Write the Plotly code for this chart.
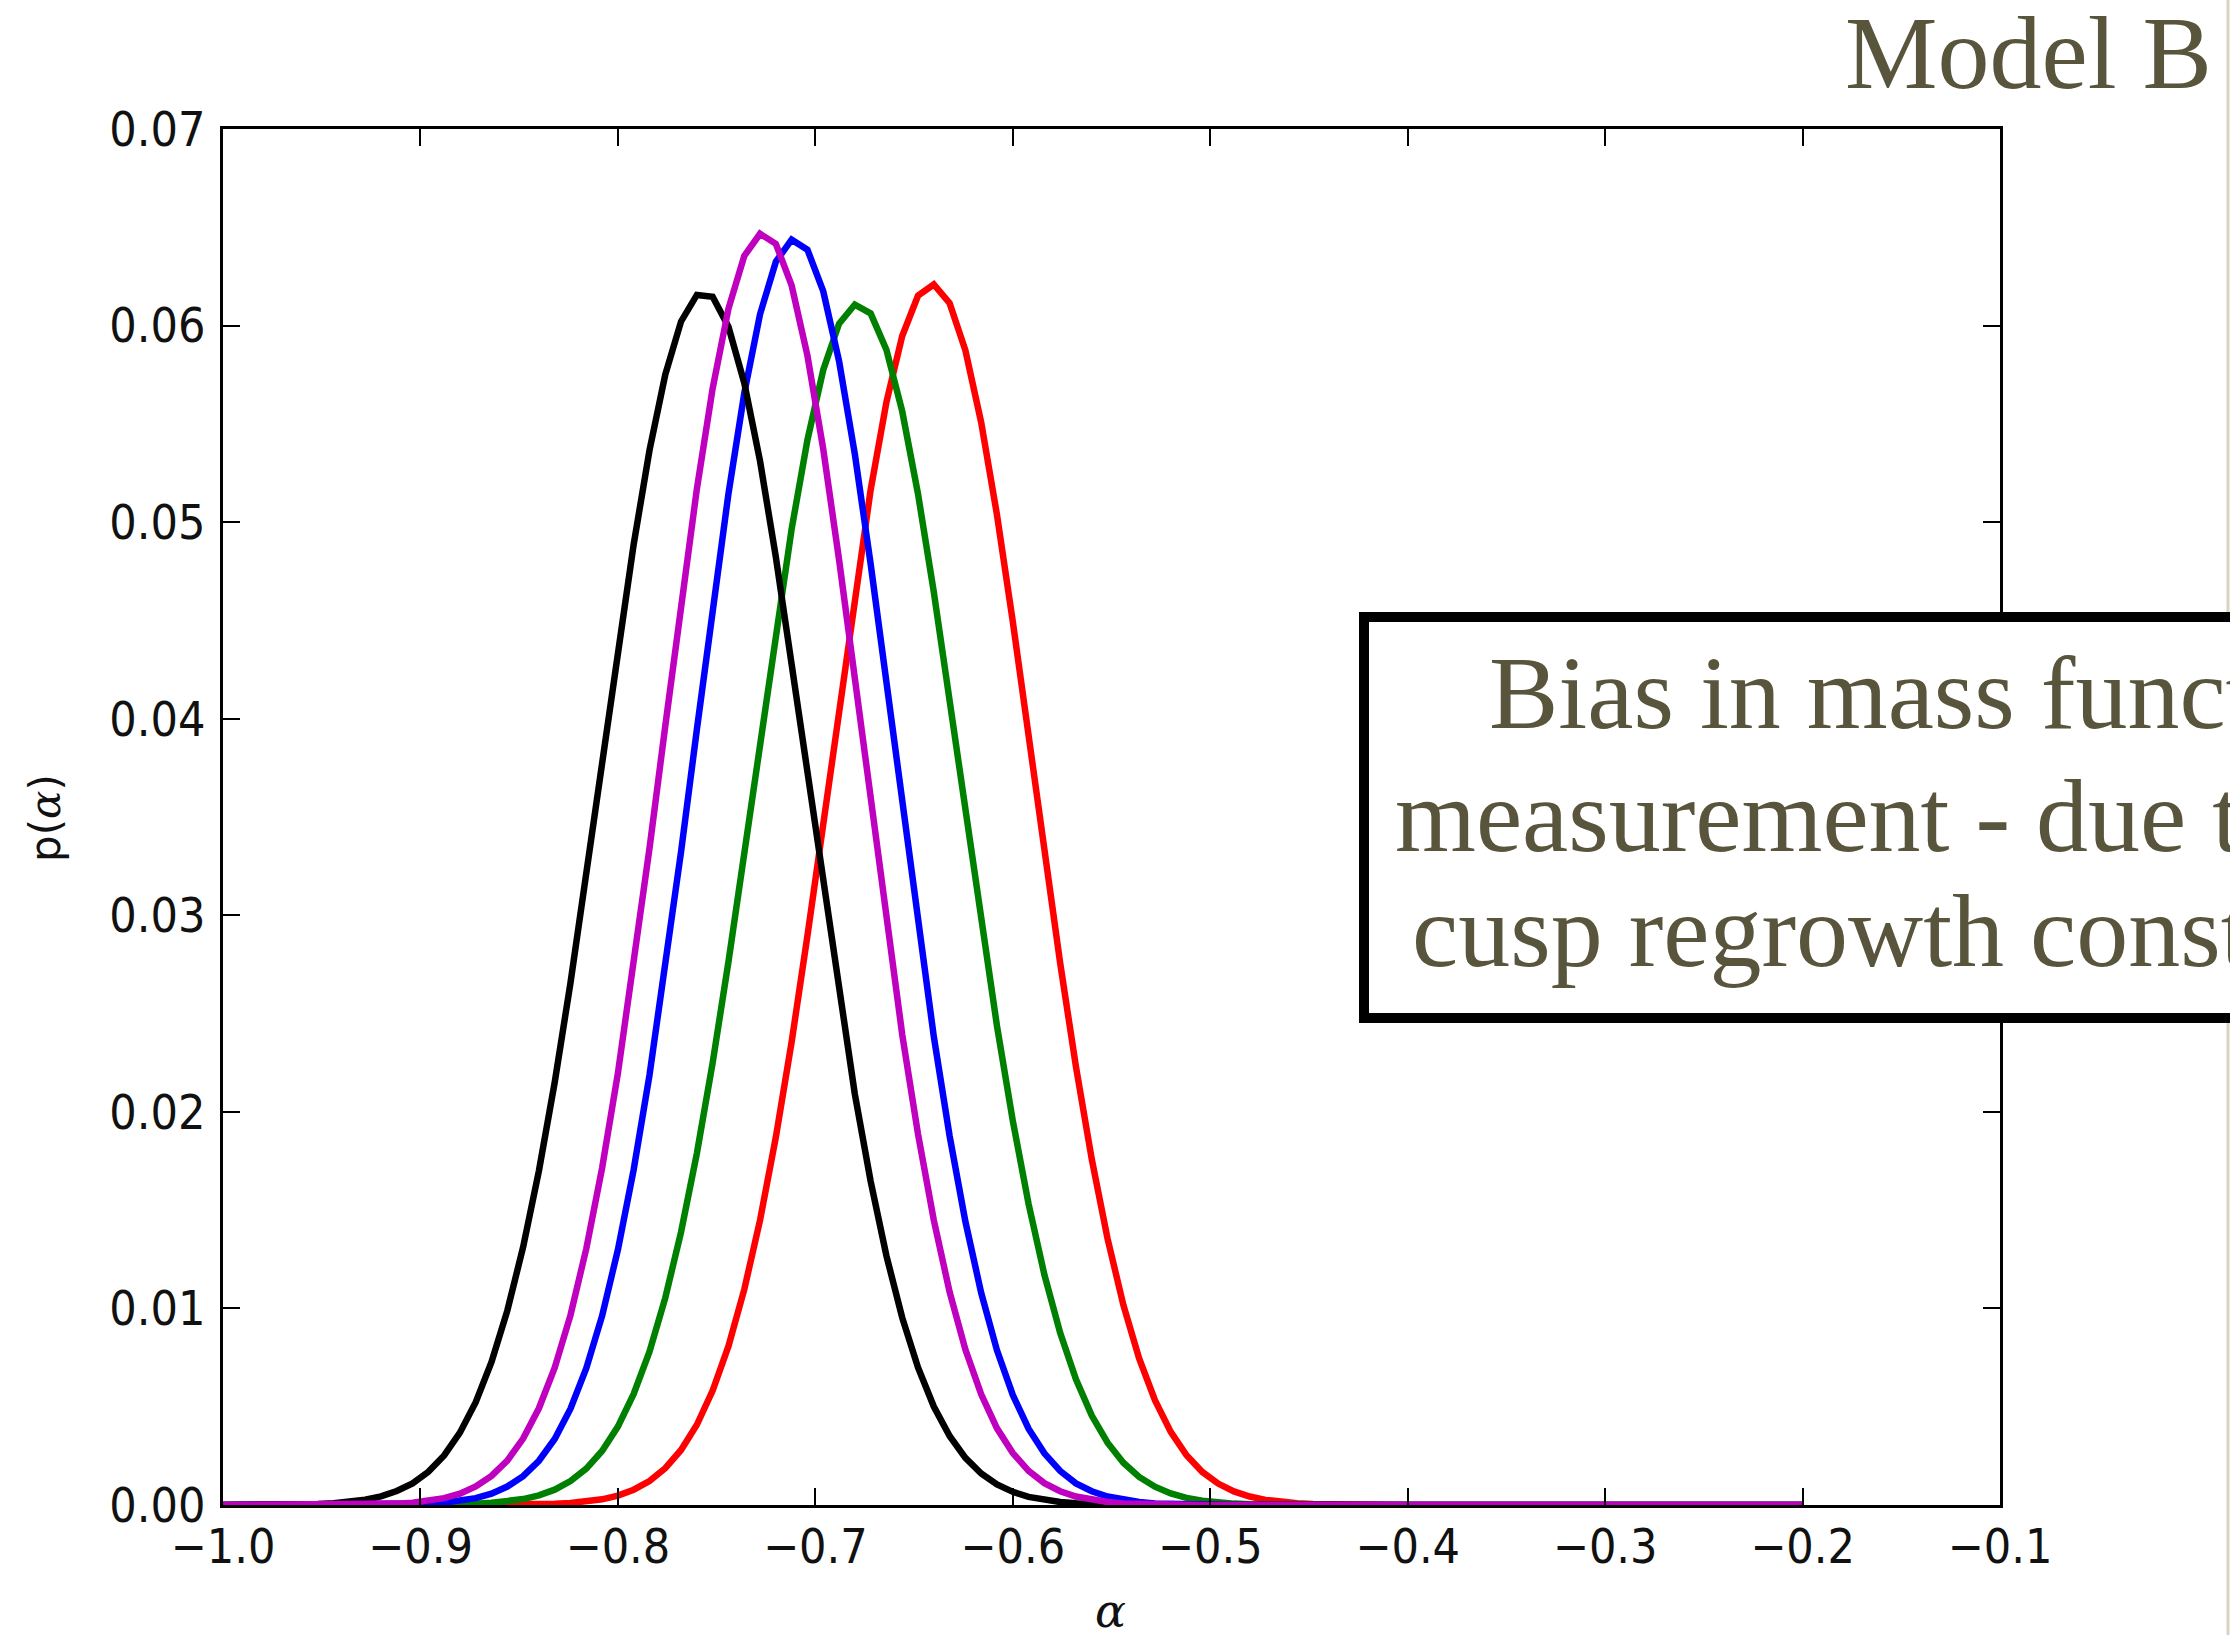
import numpy as np
import plotly.graph_objects as go

# alpha grid shared by all posterior curves
alpha = np.round(np.arange(101) * 0.008 - 1.0, 3)

p_black = [
    0, 0, 0, 0.00001, 0.00002, 0.00003, 0.00005, 0.00009, 0.00016, 0.00027,
    0.00044, 0.00071, 0.00110, 0.00169, 0.00252, 0.00368, 0.00523, 0.00728, 0.00989, 0.01312,
    0.01700, 0.02150, 0.02657, 0.03206, 0.03778, 0.04348, 0.04887, 0.05365, 0.05751, 0.06021,
    0.06156, 0.06147, 0.05994, 0.05709, 0.05310, 0.04823, 0.04278, 0.03706, 0.03136, 0.02591,
    0.02091, 0.01648, 0.01268, 0.00953, 0.00700, 0.00501, 0.00351, 0.00240, 0.00160, 0.00105,
    0.00067, 0.00041, 0.00025, 0.00015, 0.00009, 0.00005, 0.00003, 0.00002, 0.00001, 0,
    0, 0, 0, 0, 0, 0, 0, 0, 0, 0,
    0, 0, 0, 0, 0, 0, 0, 0, 0, 0,
    0, 0, 0, 0, 0, 0, 0, 0, 0, 0,
    0, 0, 0, 0, 0, 0, 0, 0, 0, 0,
    0,
]

p_magenta = [
    0, 0, 0, 0, 0, 0, 0, 0.00001, 0.00001, 0.00002,
    0.00004, 0.00007, 0.00012, 0.00021, 0.00035, 0.00058, 0.00094, 0.00148, 0.00226, 0.00338,
    0.00492, 0.00699, 0.00966, 0.01304, 0.01714, 0.02196, 0.02743, 0.03340, 0.03963, 0.04585,
    0.05169, 0.05681, 0.06086, 0.06354, 0.06467, 0.06416, 0.06204, 0.05847, 0.05372, 0.04810,
    0.04198, 0.03572, 0.02962, 0.02394, 0.01887, 0.01449, 0.01084, 0.00791, 0.00563, 0.00390,
    0.00264, 0.00174, 0.00111, 0.00070, 0.00043, 0.00025, 0.00015, 0.00008, 0.00005, 0.00002,
    0.00001, 0.00001, 0, 0, 0, 0, 0, 0, 0, 0,
    0, 0, 0, 0, 0, 0, 0, 0, 0, 0,
    0, 0, 0, 0, 0, 0, 0, 0, 0, 0,
    0, 0, 0, 0, 0, 0, 0, 0, 0, 0,
    0,
]

p_blue = [
    0, 0, 0, 0, 0, 0, 0, 0, 0, 0.00001,
    0.00001, 0.00002, 0.00004, 0.00007, 0.00012, 0.00021, 0.00035, 0.00058, 0.00094, 0.00147,
    0.00225, 0.00336, 0.00490, 0.00696, 0.00962, 0.01298, 0.01706, 0.02186, 0.02730, 0.03324,
    0.03945, 0.04564, 0.05145, 0.05655, 0.06058, 0.06325, 0.06437, 0.06386, 0.06175, 0.05820,
    0.05347, 0.04788, 0.04179, 0.03555, 0.02948, 0.02383, 0.01878, 0.01442, 0.01079, 0.00787,
    0.00560, 0.00388, 0.00263, 0.00173, 0.00110, 0.00070, 0.00043, 0.00025, 0.00015, 0.00008,
    0.00005, 0.00002, 0.00001, 0.00001, 0, 0, 0, 0, 0, 0,
    0, 0, 0, 0, 0, 0, 0, 0, 0, 0,
    0, 0, 0, 0, 0, 0, 0, 0, 0, 0,
    0, 0, 0, 0, 0, 0, 0, 0, 0, 0,
    0,
]

p_green = [
    0, 0, 0, 0, 0, 0, 0, 0, 0, 0,
    0, 0, 0.00001, 0.00001, 0.00002, 0.00003, 0.00006, 0.00011, 0.00018, 0.00030,
    0.00049, 0.00078, 0.00122, 0.00185, 0.00275, 0.00399, 0.00565, 0.00780, 0.01054, 0.01389,
    0.01789, 0.02250, 0.02764, 0.03316, 0.03884, 0.04444, 0.04965, 0.05418, 0.05774, 0.06009,
    0.06107, 0.06062, 0.05877, 0.05564, 0.05144, 0.04645, 0.04097, 0.03528, 0.02967, 0.02437,
    0.01955, 0.01532, 0.01172, 0.00876, 0.00639, 0.00455, 0.00317, 0.00215, 0.00143, 0.00093,
    0.00059, 0.00036, 0.00022, 0.00013, 0.00007, 0.00004, 0.00002, 0.00001, 0.00001, 0,
    0, 0, 0, 0, 0, 0, 0, 0, 0, 0,
    0, 0, 0, 0, 0, 0, 0, 0, 0, 0,
    0, 0, 0, 0, 0, 0, 0, 0, 0, 0,
    0,
]

p_red = [
    0, 0, 0, 0, 0, 0, 0, 0, 0, 0,
    0, 0, 0, 0, 0, 0, 0, 0, 0.00001, 0.00002,
    0.00003, 0.00006, 0.00010, 0.00017, 0.00029, 0.00048, 0.00078, 0.00122, 0.00187, 0.00280,
    0.00408, 0.00582, 0.00808, 0.01096, 0.01449, 0.01871, 0.02356, 0.02896, 0.03472, 0.04061,
    0.04636, 0.05163, 0.05610, 0.05947, 0.06152, 0.06209, 0.06114, 0.05874, 0.05507, 0.05037,
    0.04495, 0.03914, 0.03325, 0.02757, 0.02229, 0.01759, 0.01355, 0.01018, 0.00746, 0.00533,
    0.00372, 0.00253, 0.00168, 0.00109, 0.00069, 0.00043, 0.00026, 0.00015, 0.00009, 0.00005,
    0.00003, 0.00001, 0.00001, 0, 0, 0, 0, 0, 0, 0,
    0, 0, 0, 0, 0, 0, 0, 0, 0, 0,
    0, 0, 0, 0, 0, 0, 0, 0, 0, 0,
    0,
]

x_ticks = [-1.0, -0.9, -0.8, -0.7, -0.6, -0.5, -0.4, -0.3, -0.2, -0.1]
x_tick_text = ["\u22121.0", "\u22120.9", "\u22120.8", "\u22120.7", "\u22120.6",
               "\u22120.5", "\u22120.4", "\u22120.3", "\u22120.2", "\u22120.1"]
y_ticks = [0.0, 0.01, 0.02, 0.03, 0.04, 0.05, 0.06, 0.07]
y_tick_text = ["0.00", "0.01", "0.02", "0.03", "0.04", "0.05", "0.06", "0.07"]

box_lines = ["Bias in mass function", "measurement - due to", "cusp regrowth constraints"]
slide_title = "Model B"

# drawing order, bottom to top
series = [
    (p_red, "#ff0000"),
    (p_green, "#008000"),
    (p_blue, "#0000ff"),
    (p_black, "#000000"),
    (p_magenta, "#bf00bf"),
]
for ys, _ in series:
    assert len(ys) == len(alpha)

W, H = 2230, 1635
L, R, T, B = 223, 2000, 129, 1505   # plot box in pixels


def px(xp):
    return (xp - L) / (R - L)


def py(yp):
    return (B - yp) / (B - T)


fig = go.Figure()
for ys, col in series:
    fig.add_trace(go.Scatter(x=alpha, y=ys, mode="lines",
                             line=dict(color=col, width=6.5), showlegend=False,
                             hoverinfo="skip"))

tick_font = dict(family="DejaVu Sans Condensed, DejaVu Sans", size=48, color="#111111")
axis_common = dict(
    showgrid=False, zeroline=False, showline=True, linecolor="black", linewidth=3,
    mirror="ticks", ticks="inside", ticklen=17, tickwidth=2, tickcolor="black",
    tickfont=tick_font,
)
fig.update_xaxes(range=[-1.0, -0.1], tickmode="array", tickvals=x_ticks,
                 ticktext=x_tick_text, ticklabelstandoff=-3, **axis_common)
fig.update_yaxes(range=[0.0, 0.07], tickmode="array", tickvals=y_ticks,
                 ticktext=y_tick_text, ticklabelstandoff=5, **axis_common)

text_col = "#59553d"
box_size = 104
annotations = [
    dict(text="p(<span style='font-family:DejaVu Serif'><i>\u03b1</i></span>)",
         x=px(45), y=py(818), textangle=-90,
         font=dict(family="DejaVu Sans", size=42, color="#111111")),
    dict(text="<i>\u03b1</i>", x=px(1110), y=py(1611),
         font=dict(family="DejaVu Serif", size=46, color="#111111")),
    dict(text=slide_title, x=px(1843), y=py(88 - 0.3375 * 104), xanchor="left",
         font=dict(family="Liberation Serif", size=104, color=text_col)),
]
line_pos = [(1487, 728), (1393, 851), (1410, 966)]
for txt, (lx, base) in zip(box_lines, line_pos):
    annotations.append(dict(text=txt, x=px(lx), y=py(base - 0.3375 * box_size),
                            xanchor="left",
                            font=dict(family="Liberation Serif", size=box_size,
                                      color=text_col)))
for a in annotations:
    a.setdefault("xanchor", "center")
    a.update(xref="paper", yref="paper", yanchor="middle", showarrow=False)

shapes = [
    # slide edge line on the far right
    dict(type="line", xref="paper", yref="paper", x0=px(2228), x1=px(2228),
         y0=py(H + 20), y1=py(-20), line=dict(color="#d8d4c2", width=3), layer="above"),
    # framed text box running off the right edge
    dict(type="rect", xref="paper", yref="paper", x0=px(1364), x1=px(2400),
         y0=py(1018), y1=py(617), line=dict(color="black", width=10),
         fillcolor="white", layer="above"),
]

fig.update_layout(
    width=W, height=H, autosize=False,
    margin=dict(l=L, r=W - R, t=T, b=H - B, pad=0),
    paper_bgcolor="white", plot_bgcolor="white",
    annotations=annotations, shapes=shapes,
)

fig.write_html("out.html")
